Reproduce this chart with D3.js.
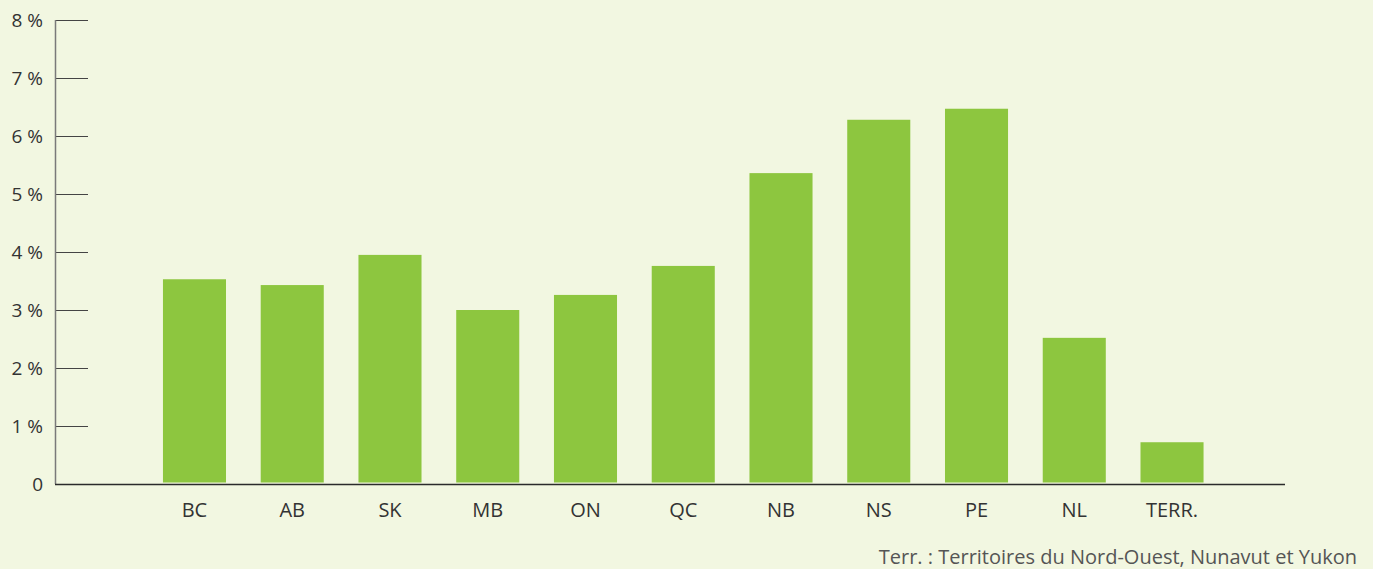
<!DOCTYPE html>
<html>
<head>
<meta charset="utf-8">
<script src="https://cdn.jsdelivr.net/npm/d3@7"></script>
<style>
  html, body { margin: 0; padding: 0; background: #f2f7e1; }
  svg text { font-family: "Open Sans", "Noto Sans", sans-serif; }
</style>
</head>
<body>
<div id="chart"></div>
<script>
// Values (percent)
const provinces = ['BC', 'AB', 'SK', 'MB', 'ON', 'QC', 'NB', 'NS', 'PE', 'NL', 'TERR.'];
const rates = [3.53, 3.43, 3.95, 3.0, 3.26, 3.76, 5.36, 6.28, 6.47, 2.52, 0.72];
const yTicks = [0, 1, 2, 3, 4, 5, 6, 7, 8];
const footnote = 'Terr. : Territoires du Nord-Ouest, Nunavut et Yukon';

const width = 1373;
const height = 569;

const svg = d3.select('#chart').append('svg')
  .attr('width', width)
  .attr('height', height);

svg.append('rect')
  .attr('width', width)
  .attr('height', height)
  .attr('fill', '#f2f7e1');

const axisX = 55;
const axisEnd = 1285;

const y = d3.scaleLinear()
  .domain([0, 8])
  .range([484, 20]);

const x = d3.scaleBand()
  .domain(provinces)
  .range([145.6, 1220.9])
  .paddingInner(0.355)
  .paddingOuter(0.1775);

// y axis
const yAxis = svg.append('g')
  .attr('transform', `translate(${axisX},0)`)
  .call(d3.axisRight(y).tickValues(yTicks).tickSize(33)
    .tickFormat(d => d === 0 ? '0' : d + ' %'));
yAxis.select('.domain').remove();
yAxis.selectAll('.tick line').attr('stroke', '#444').attr('stroke-width', 1);
yAxis.selectAll('.tick').filter(d => d === 0).select('line').remove();
yAxis.selectAll('.tick text')
  .attr('x', -12)
  .attr('text-anchor', 'end')
  .attr('dy', '0.32em')
  .attr('fill', '#333')
  .attr('font-size', 19);

svg.append('line')
  .attr('x1', axisX + 0.5).attr('x2', axisX + 0.5)
  .attr('y1', y(8)).attr('y2', y(0))
  .attr('stroke', '#7a7a7a')
  .attr('stroke-width', 1.5);

// bars
svg.append('g')
  .selectAll('rect')
  .data(provinces)
  .enter().append('rect')
  .attr('x', d => x(d))
  .attr('width', x.bandwidth())
  .attr('y', (d, i) => y(rates[i]))
  .attr('height', (d, i) => y(0) - y(rates[i]) - 1.5)
  .attr('fill', '#8dc63f');

// x axis
svg.append('line')
  .attr('x1', axisX).attr('x2', axisEnd)
  .attr('y1', y(0) + 0.5).attr('y2', y(0) + 0.5)
  .attr('stroke', '#2b2b2b')
  .attr('stroke-width', 1.5);

svg.append('g')
  .selectAll('text')
  .data(provinces)
  .enter().append('text')
  .attr('x', d => x(d) + x.bandwidth() / 2)
  .attr('y', 517)
  .attr('text-anchor', 'middle')
  .attr('fill', '#333')
  .attr('font-size', 20)
  .text(d => d);

svg.append('text')
  .attr('x', 1357)
  .attr('y', 564)
  .attr('text-anchor', 'end')
  .attr('fill', '#555')
  .attr('font-size', 20)
  .text(footnote);
</script>
</body>
</html>
